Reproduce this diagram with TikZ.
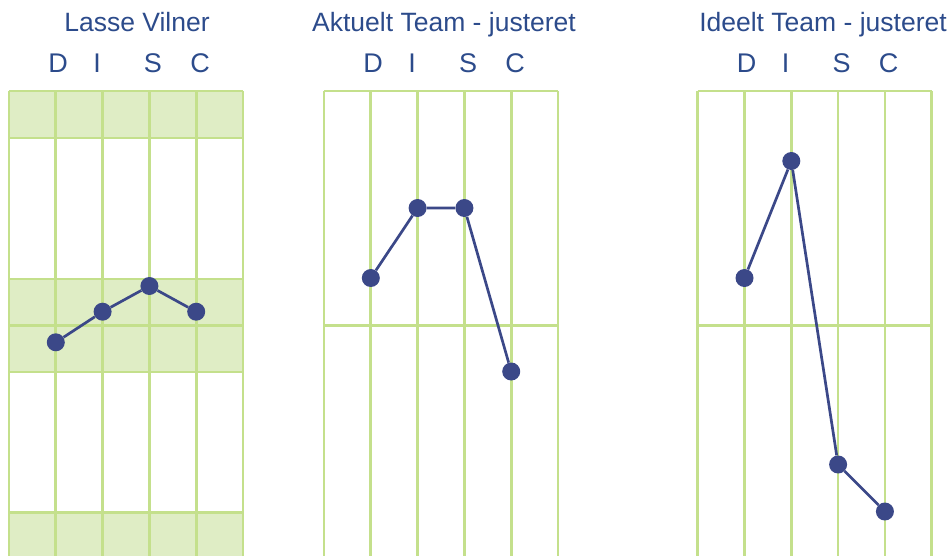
\documentclass[tikz,border=0pt]{standalone}
\usepackage{fontspec}
\setmainfont{Liberation Sans}
\definecolor{gridgreen}{HTML}{C4E08C}
\definecolor{bandfill}{HTML}{DFEDC5}
\definecolor{titleblue}{HTML}{2C4B8B}
\definecolor{dotblue}{HTML}{3B4888}
\tikzset{
  gridline/.style={draw=gridgreen, line width=2.7pt},
  band/.style={fill=bandfill},
  title/.style={text=titleblue, font=\fontsize{26.5}{30}\selectfont, anchor=base, inner sep=0pt},
  letter/.style={text=titleblue, font=\fontsize{27}{30}\selectfont, anchor=base, inner sep=0pt},
  dot/.style={circle, fill=dotblue, minimum size=18pt, inner sep=0pt},
  link/.style={draw=dotblue, line width=2.7pt},
}
\begin{document}
\begin{tikzpicture}[x=1pt, y=-1pt]
\useasboundingbox (0,0) rectangle (952,555);
\def\cw{46.8}
% column header letters at fixed offsets from a chart's left edge
\newcommand{\discletters}[2]{%
  \node[letter] (#2d) at (#1+58,72.5) {D};
  \node[letter] (#2i) at (#1+97,72.5) {I};
  \node[letter] (#2s) at (#1+153,72.5) {S};
  \node[letter] (#2c) at (#1+200,72.5) {C};
}
% ---------- chart 1 ----------
\begin{scope}
  \fill[band] (9,91) rectangle (243,138);
  \fill[band] (9,279) rectangle (243,372);
  \fill[band] (9,512.5) rectangle (243,560);
  \foreach \i in {0,...,5} \draw[gridline] (9+\i*\cw,91) -- (9+\i*\cw,560);
  \foreach \y in {91,138,279,325.5,372,512.5} \draw[gridline] (9,\y) -- (243,\y);
\end{scope}
\node[title] (t1) at (137,31) {Lasse Vilner};
\discletters{0}{a}
\node[dot] (a1) at (55.8,342.3) {};
\node[dot] (a2) at (102.6,311.7) {};
\node[dot] (a3) at (149.4,286) {};
\node[dot] (a4) at (196.2,311.7) {};
\draw[link] (a1) -- (a2) -- (a3) -- (a4);
% ---------- chart 2 ----------
\begin{scope}
  \foreach \i in {0,...,5} \draw[gridline] (324+\i*\cw,91) -- (324+\i*\cw,560);
  \foreach \y in {91,325.5} \draw[gridline] (324,\y) -- (558,\y);
\end{scope}
\node[title] (t2) at (444,31) {Aktuelt Team - justeret};
\discletters{315}{b}
\node[dot] (b1) at (370.8,278) {};
\node[dot] (b2) at (417.6,208) {};
\node[dot] (b3) at (464.4,208) {};
\node[dot] (b4) at (511.2,371.5) {};
\draw[link] (b1) -- (b2) -- (b3) -- (b4);
% ---------- chart 3 ----------
\begin{scope}
  \foreach \i in {0,...,5} \draw[gridline] (697.7+\i*\cw,91) -- (697.7+\i*\cw,560);
  \foreach \y in {91,325.5} \draw[gridline] (697.7,\y) -- (931.7,\y);
\end{scope}
\node[title] (t3) at (823,31) {Ideelt Team - justeret};
\discletters{688.7}{c}
\node[dot] (c1) at (744.5,278) {};
\node[dot] (c2) at (791.3,161) {};
\node[dot] (c3) at (838.1,464.5) {};
\node[dot] (c4) at (884.9,511.5) {};
\draw[link] (c1) -- (c2) -- (c3) -- (c4);
\end{tikzpicture}
\end{document}
